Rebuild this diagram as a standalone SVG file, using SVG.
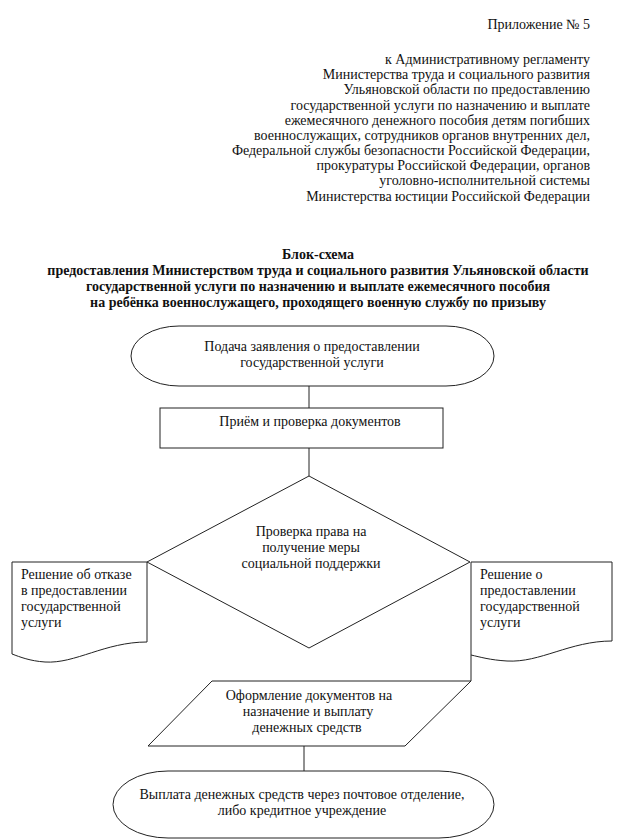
<svg xmlns="http://www.w3.org/2000/svg" width="619" height="840" viewBox="0 0 619 840">
<style>
text { font-family: "Liberation Serif", "Times New Roman", serif; font-size: 14px; fill: #111; }
.hdr { text-anchor: end; }
.ttl { text-anchor: middle; font-weight: bold; }
.c { text-anchor: middle; }
.shape { fill: #fff; stroke: #222; stroke-width: 1; }
.conn line { stroke: #222; stroke-width: 1; }
</style>
<rect x="0" y="0" width="619" height="840" fill="#fff"/>
<g id="header">
<text class="hdr" x="590" y="29">Приложение № 5</text>
<text class="hdr" x="590" y="64">к Административному регламенту</text>
<text class="hdr" x="590" y="79">Министерства труда и социального развития</text>
<text class="hdr" x="590" y="94">Ульяновской области по предоставлению</text>
<text class="hdr" x="590" y="109.5">государственной услуги по назначению и выплате</text>
<text class="hdr" x="590" y="125">ежемесячного денежного пособия детям погибших</text>
<text class="hdr" x="590" y="140">военнослужащих, сотрудников органов внутренних дел,</text>
<text class="hdr" x="590" y="155">Федеральной службы безопасности Российской Федерации,</text>
<text class="hdr" x="590" y="170">прокуратуры Российской Федерации, органов</text>
<text class="hdr" x="590" y="185">уголовно-исполнительной системы</text>
<text class="hdr" x="590" y="201">Министерства юстиции Российской Федерации</text>
</g>
<g id="title">
<text class="ttl" x="318" y="259">Блок-схема</text>
<text class="ttl" x="318" y="275">предоставления Министерством труда и социального развития Ульяновской области</text>
<text class="ttl" x="318" y="291">государственной услуги по назначению и выплате ежемесячного пособия</text>
<text class="ttl" x="318" y="307">на ребёнка военнослужащего, проходящего военную службу по призыву</text>
</g>
<g id="connectors" class="conn">
<line x1="309" y1="386" x2="309" y2="408"/>
<line x1="309" y1="448" x2="309" y2="476"/>
<line x1="471" y1="655" x2="471" y2="681"/>
<line x1="304" y1="746" x2="304" y2="771"/>
</g>
<g id="start">
<path class="shape" d="M179,326 H446 A48,30 0 0 1 446,386 H179 A48,30 0 0 1 179,326 Z"/>
<text class="c" x="312" y="351">Подача заявления о предоставлении</text>
<text class="c" x="312" y="367">государственной услуги</text>
</g>
<g id="receive">
<rect class="shape" x="160" y="408" width="283" height="40"/>
<text class="c" x="310" y="426">Приём и проверка документов</text>
</g>
<g id="check">
<polygon class="shape" points="309,476 470,562 309,648 147,562"/>
<text class="c" x="311" y="536">Проверка права на</text>
<text class="c" x="311" y="552">получение меры</text>
<text class="c" x="311" y="568">социальной поддержки</text>
</g>
<g id="refuse">
<path class="shape" d="M12,562 H147 V642 C105,642 75,664 45,662 C30,661 20,657 12,654 Z"/>
<text x="21" y="579">Решение об отказе</text>
<text x="21" y="595">в предоставлении</text>
<text x="21" y="611">государственной</text>
<text x="21" y="627">услуги</text>
</g>
<g id="grant">
<path class="shape" d="M471,562 H612 V641 C570,641 540,663 507,661 C490,660 480,657 471,655 Z"/>
<text x="480" y="579">Решение о</text>
<text x="480" y="595">предоставлении</text>
<text x="480" y="611">государственной</text>
<text x="480" y="627">услуги</text>
</g>
<g id="prepare">
<polygon class="shape" points="212,681 471,681 405,746 148,746"/>
<text class="c" x="309" y="700">Оформление документов на</text>
<text class="c" x="308" y="716">назначение и выплату</text>
<text class="c" x="307" y="732">денежных средств</text>
</g>
<g id="payment">
<path class="shape" d="M168,771 H439 A55,33.5 0 0 1 439,838 H168 A55,33.5 0 0 1 168,771 Z"/>
<text class="c" x="302" y="799">Выплата денежных средств через почтовое отделение,</text>
<text class="c" x="302" y="815">либо кредитное учреждение</text>
</g>
</svg>
